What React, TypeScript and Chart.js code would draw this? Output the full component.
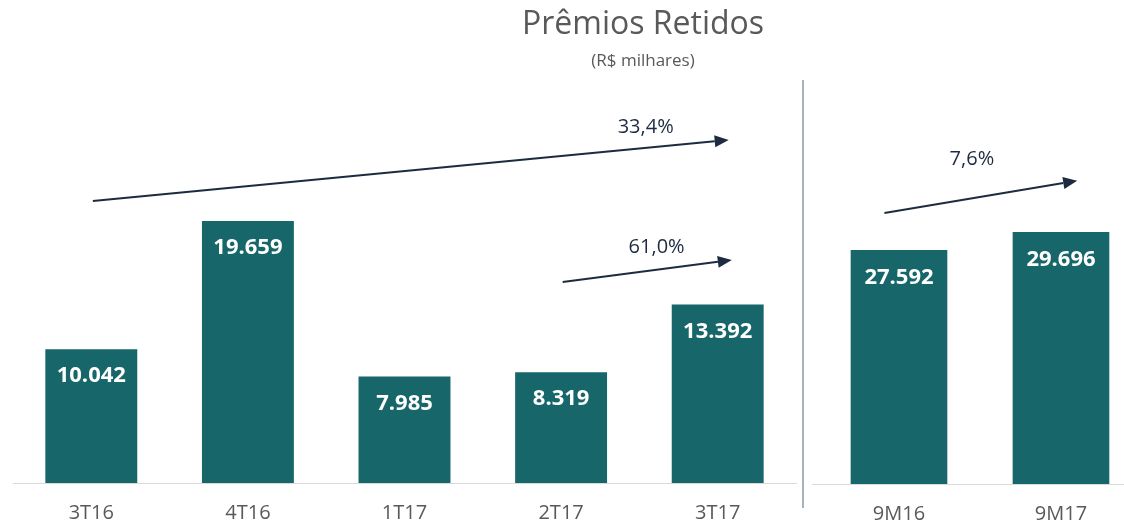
import React, { useEffect, useRef } from "react";
import { Chart, registerables } from "chart.js";

Chart.register(...registerables);

const quarterLabels = ["3T16", "4T16", "1T17", "2T17", "3T17"];
const quarterValues = [10042, 19659, 7985, 8319, 13392];
const periodLabels = ["9M16", "9M17"];
const periodValues = [27592, 29696];

const titleText = "Prêmios Retidos";
const subtitleText = "(R$ milhares)";

// growth arrows in data space: [categoryIndex, value]
const quarterArrowLabels = ["33,4%", "61,0%"];
const quarterArrowFrom = [[0.01, 21160], [3.01, 15080]];
const quarterArrowTo = [[4.07, 25740], [4.09, 16730]];
const quarterArrowText = [[3.54, 26710], [3.61, 17710]];

const periodArrowLabels = ["7,6%"];
const periodArrowFrom = [[-0.09, 31990]];
const periodArrowTo = [[1.1, 35800]];
const periodArrowText = [[0.45, 38300]];

const TEAL = "#17666A";
const GREY = "#595959";
const NAVY = "#1D2B40";
const FONT = "'Open Sans', 'Noto Sans', sans-serif";

const fmt = (v: number) => {
  const th = Math.floor(v / 1000);
  const r = String(v % 1000).padStart(3, "0");
  return th + "." + r;
};

function drawArrow(ctx: CanvasRenderingContext2D, x1: number, y1: number, x2: number, y2: number) {
  const ang = Math.atan2(y2 - y1, x2 - x1);
  const head = 14;
  const hw = 6;
  ctx.save();
  ctx.strokeStyle = NAVY;
  ctx.fillStyle = NAVY;
  ctx.lineWidth = 2;
  ctx.beginPath();
  ctx.moveTo(x1, y1);
  ctx.lineTo(x2 - head * Math.cos(ang), y2 - head * Math.sin(ang));
  ctx.stroke();
  ctx.beginPath();
  ctx.moveTo(x2, y2);
  const bx = x2 - head * Math.cos(ang);
  const by = y2 - head * Math.sin(ang);
  ctx.lineTo(bx + hw * Math.sin(ang), by - hw * Math.cos(ang));
  ctx.lineTo(bx - hw * Math.sin(ang), by + hw * Math.cos(ang));
  ctx.closePath();
  ctx.fill();
  ctx.restore();
}

function overlayPlugin(
  labels: string[],
  from: number[][],
  to: number[][],
  textPos: number[][],
  extra?: (chart: any) => void
) {
  return {
    id: "overlay",
    afterDatasetsDraw(chart: any) {
      const ctx = chart.ctx as CanvasRenderingContext2D;
      const xs = chart.scales.x;
      const ys = chart.scales.y;
      const meta = chart.getDatasetMeta(0);
      const data = chart.data.datasets[0].data as any[];
      ctx.save();
      ctx.fillStyle = "#FFFFFF";
      ctx.font = `bold 22px ${FONT}`;
      ctx.textAlign = "center";
      ctx.textBaseline = "middle";
      meta.data.forEach((bar: any, i: number) => {
        const d = data[i];
        const v = typeof d === "number" ? d : d.y;
        ctx.fillText(fmt(v), bar.x, bar.y + 27);
      });
      ctx.restore();

      labels.forEach((lab, i) => {
        drawArrow(
          ctx,
          xs.getPixelForValue(from[i][0]),
          ys.getPixelForValue(from[i][1]),
          xs.getPixelForValue(to[i][0]),
          ys.getPixelForValue(to[i][1])
        );
        ctx.save();
        ctx.fillStyle = NAVY;
        ctx.font = `20px ${FONT}`;
        ctx.textAlign = "center";
        ctx.textBaseline = "middle";
        ctx.fillText(lab, xs.getPixelForValue(textPos[i][0]), ys.getPixelForValue(textPos[i][1]));
        ctx.restore();
      });
      if (extra) extra(chart);
    },
  };
}

const LEFT_H = 543;
const RIGHT_H = 544;

export default function App() {
  const leftRef = useRef<HTMLCanvasElement>(null);
  const rightRef = useRef<HTMLCanvasElement>(null);

  useEffect(() => {
    const left = new Chart(leftRef.current!, {
      type: "bar",
      data: {
        labels: quarterLabels,
        datasets: [
          {
            data: quarterValues,
            backgroundColor: TEAL,
            categoryPercentage: 1,
            barPercentage: 0.587,
          },
        ],
      },
      options: {
        animation: false,
        responsive: false,
        maintainAspectRatio: false,
        layout: { padding: { left: 13, right: 16, top: 100, bottom: 0 } },
        plugins: { legend: { display: false }, tooltip: { enabled: false } },
        scales: {
          x: {
            grid: { display: false, drawTicks: false },
            border: { color: "#D9D9D9", width: 1 },
            ticks: { font: { family: FONT, size: 20 }, color: GREY, padding: 18 },
          },
          y: { display: false, min: 0, max: 28740 },
        },
      },
      plugins: [
        overlayPlugin(quarterArrowLabels, quarterArrowFrom, quarterArrowTo, quarterArrowText, (chart: any) => {
          const ctx = chart.ctx as CanvasRenderingContext2D;
          ctx.save();
          ctx.fillStyle = GREY;
          ctx.textAlign = "center";
          ctx.textBaseline = "middle";
          ctx.font = `32px ${FONT}`;
          ctx.fillText(titleText, 643, 25);
          ctx.font = `17px ${FONT}`;
          ctx.fillText(subtitleText, 643, 61);
          ctx.strokeStyle = "#A9B1BC";
          ctx.lineWidth = 2;
          ctx.beginPath();
          ctx.moveTo(803, 80);
          ctx.lineTo(803, 508);
          ctx.stroke();
          ctx.restore();
        }),
      ],
    } as any);

    const right = new Chart(rightRef.current!, {
      type: "bar",
      data: {
        labels: periodLabels,
        datasets: [
          {
            data: periodValues.map((v, i) => ({ x: i, y: v })),
            backgroundColor: TEAL,
            barThickness: 96,
          },
        ],
      },
      options: {
        animation: false,
        responsive: false,
        maintainAspectRatio: false,
        layout: { padding: { left: 0, right: 0, top: 100, bottom: 0 } },
        plugins: { legend: { display: false }, tooltip: { enabled: false } },
        scales: {
          x: {
            type: "linear",
            min: -0.537,
            max: 1.389,
            offset: false,
            grid: { display: false, drawTicks: false, offset: false },
            border: { color: "#D9D9D9", width: 1 },
            afterBuildTicks: (s: any) => {
              s.ticks = periodLabels.map((_, i) => ({ value: i }));
            },
            ticks: {
              font: { family: FONT, size: 20 },
              color: GREY,
              padding: 18,
              callback: (v: any) => periodLabels[Math.round(Number(v))] ?? "",
            },
          },
          y: { display: false, min: 0, max: 45325 },
        },
      },
      plugins: [overlayPlugin(periodArrowLabels, periodArrowFrom, periodArrowTo, periodArrowText)],
    } as any);

    return () => {
      left.destroy();
      right.destroy();
    };
  }, []);

  return (
    <div
      style={{
        position: "fixed",
        left: 0,
        top: 0,
        width: 1124,
        height: 526,
        overflow: "hidden",
        background: "#FFFFFF",
      }}
    >
      <canvas
        ref={leftRef}
        width={812}
        height={LEFT_H}
        style={{ position: "absolute", left: 0, top: 0, width: 812, height: LEFT_H }}
      />
      <canvas
        ref={rightRef}
        width={312}
        height={RIGHT_H}
        style={{ position: "absolute", left: 812, top: 0, width: 312, height: RIGHT_H }}
      />
    </div>
  );
}
